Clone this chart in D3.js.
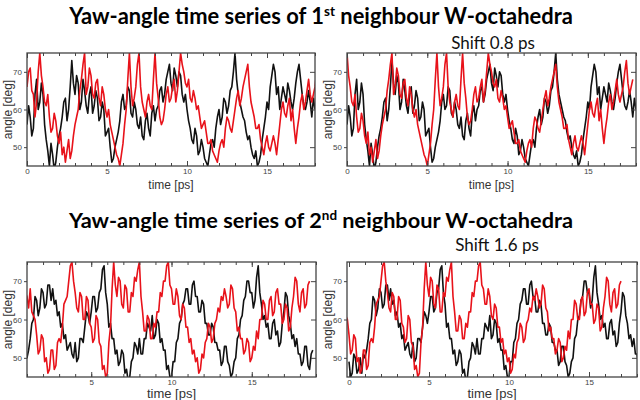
<!DOCTYPE html>
<html>
<head>
<meta charset="utf-8">
<script src="https://cdn.jsdelivr.net/npm/d3@7"></script>
<style>
  body { margin: 0; background: #fff; }
  svg { display: block; }
  .tick text { font-family: "Liberation Sans", Arial, sans-serif; font-size: 8px; fill: #444; }
  .tick line { stroke: #444; }
</style>
</head>
<body>
<div id="chart"></div>
<script>
// sampling step of the series (ps)
var step = 0.1;

// 1st neighbour yaw angles (deg), sampled from t = 0
var blackTop = [56, 61, 58, 53, 55, 64, 68, 60, 62, 67, 64, 56, 52, 49, 45, 51, 48, 44, 46, 50,
  53, 55, 58, 62, 63, 57, 60, 66, 73, 67, 64, 69, 67, 60, 62, 68, 65, 61, 59, 64,
  66, 59, 61, 65, 63, 57, 58, 62, 60, 53, 54, 55, 50, 46, 47, 50, 52, 54, 57, 62,
  64, 60, 61, 66, 65, 59, 58, 62, 60, 56, 55, 58, 53, 52, 57, 59, 55, 53, 59, 61,
  57, 60, 61, 65, 66, 62, 64, 68, 70, 72, 67, 65, 71, 69, 66, 70, 69, 64, 62, 64,
  60, 57, 55, 52, 51, 55, 53, 48, 49, 52, 50, 47, 46, 45, 48, 51, 52, 50, 55, 58,
  60, 56, 58, 63, 62, 59, 61, 65, 66, 70, 75, 68, 64, 62, 60, 58, 57, 54, 52, 53,
  50, 48, 47, 49, 45, 46, 48, 52, 55, 58, 62, 60, 66, 69, 72, 70, 64, 66, 60, 63,
  66, 64, 62, 67, 65, 62, 60, 63, 67, 70, 72, 68, 64, 61, 60, 62, 65, 62, 58, 63,
  60];
var redTop = [66, 70, 71, 65, 64, 58, 62, 70, 75, 69, 66, 62, 61, 64, 58, 54, 55, 59, 57, 53,
  51, 54, 48, 50, 46, 49, 52, 47, 49, 53, 56, 58, 60, 65, 68, 72, 75, 64, 66, 71,
  69, 64, 63, 67, 68, 63, 61, 66, 64, 60, 58, 60, 56, 54, 52, 50, 48, 47, 45, 48,
  51, 56, 60, 68, 75, 66, 61, 63, 66, 72, 75, 66, 62, 60, 58, 62, 64, 61, 60, 68,
  75, 67, 63, 58, 56, 57, 60, 64, 66, 62, 63, 66, 68, 62, 65, 70, 75, 72, 70, 67,
  66, 68, 63, 62, 65, 63, 60, 61, 58, 55, 56, 57, 54, 51, 51, 52, 49, 48, 47, 46,
  49, 51, 52, 50, 55, 58, 57, 55, 54, 57, 60, 63, 65, 61, 63, 66, 68, 70, 72, 66,
  62, 60, 58, 55, 55, 56, 52, 50, 48, 51, 53, 50, 49, 51, 53, 51, 48, 52, 56, 60,
  62, 59, 58, 61, 63, 57, 60, 55, 51, 55, 58, 62, 64, 60, 62, 65, 68, 64, 62, 64,
  66, 70, 73, 67, 64, 66, 68];
var blackTopStart = 0;
var redTopStart = 0;

// 2nd neighbour yaw angles (deg)
var blackBottom = [49, 45, 46, 51, 50, 46, 47, 50, 46, 51, 50, 52, 55, 59, 60, 66, 65, 61, 63, 68,
  67, 63, 64, 69, 69, 65, 68, 64, 65, 61, 62, 58, 59, 55, 56, 52, 53, 54, 51, 50,
  54, 49, 50, 55, 55, 54, 58, 62, 61, 59, 62, 66, 66, 62, 63, 67, 68, 73, 74, 67,
  64, 58, 59, 55, 55, 51, 52, 48, 49, 52, 51, 46, 47, 44, 45, 49, 50, 54, 53, 51,
  55, 51, 51, 55, 55, 59, 58, 57, 61, 55, 56, 60, 59, 54, 55, 52, 52, 47, 48, 45,
  45, 49, 49, 54, 55, 59, 60, 64, 65, 68, 68, 64, 64, 69, 70, 66, 66, 62, 62, 65,
  64, 59, 59, 56, 56, 59, 58, 54, 54, 52, 52, 48, 49, 53, 53, 49, 48, 45, 46, 49,
  50, 55, 56, 60, 61, 65, 66, 70, 70, 67, 67, 63, 65, 71, 74, 67, 64, 60, 61, 58,
  59, 55, 55, 59, 60, 56, 57, 53, 54, 59, 62, 67, 66, 61, 59, 55, 56, 53, 55, 51,
  51, 48, 49, 53, 53, 48, 47, 51, 52];
var redBottom = [62, 67, 66, 63, 68, 62, 61, 60, 56, 51, 52, 56, 55, 49, 50, 46, 47, 52, 52, 47,
  48, 54, 55, 54, 58, 64, 65, 66, 70, 74, 75, 70, 67, 63, 62, 67, 66, 60, 60, 66,
  65, 59, 58, 54, 55, 61, 60, 54, 53, 47, 48, 45, 46, 54, 58, 68, 75, 69, 66, 71,
  70, 64, 63, 69, 68, 62, 62, 67, 66, 71, 70, 73, 75, 66, 62, 57, 57, 61, 60, 55,
  55, 59, 58, 62, 62, 67, 66, 70, 70, 74, 75, 69, 68, 64, 64, 68, 66, 61, 60, 64,
  63, 58, 58, 54, 55, 51, 52, 49, 50, 46, 47, 51, 50, 54, 55, 59, 58, 54, 55, 59,
  60, 63, 62, 66, 65, 68, 66, 63, 64, 69, 68, 63, 62, 57, 58, 55, 55, 51, 52, 55,
  54, 49, 50, 53, 52, 57, 55, 60, 60, 65, 64, 60, 60, 65, 66, 61, 62, 67, 68, 64,
  64, 59, 60, 64, 63, 57, 58, 63, 66, 71, 70, 64, 62, 67, 68, 63, 64, 69, 70];
var blackBottomStart = 0;
var redBottomStart = 0.8;

// time shifts applied to the red series in the right-hand panels (ps)
var shiftTop = 0.8;
var shiftBottom = 1.6;

var yDomain = [45, 75];
var yTickValues = [50, 60, 70];

var svgWidth = 640;
var svgHeight = 400;

var svg = d3.select("#chart")
  .append("svg")
  .attr("width", svgWidth)
  .attr("height", svgHeight);

var panels = [
  { id: "p1", left: 27, right: 315, top: 53, bottom: 166, xDomain: [0, 18], xLabels: [0, 5, 10, 15],
    black: blackTop, blackStart: blackTopStart, red: redTop, redStart: redTopStart, timeY: 189, timeSize: 12 },
  { id: "p2", left: 347, right: 636, top: 53, bottom: 166, xDomain: [0, 18], xLabels: [0, 5, 10, 15],
    black: blackTop, blackStart: blackTopStart, red: redTop, redStart: redTopStart - shiftTop, timeY: 189, timeSize: 12 },
  { id: "p3", left: 27, right: 316, top: 262, bottom: 377, xDomain: [1, 19], xLabels: [5, 10, 15],
    black: blackBottom, blackStart: blackBottomStart, red: redBottom, redStart: redBottomStart, timeY: 398, timeSize: 13 },
  { id: "p4", left: 347, right: 637, top: 262, bottom: 377, xDomain: [-0.125, 18], xLabels: [0, 5, 10, 15],
    black: blackBottom, blackStart: blackBottomStart, red: redBottom, redStart: redBottomStart - shiftBottom, timeY: 398, timeSize: 13 }
];

var defs = svg.append("defs");

panels.forEach(function(p) {
  var x = d3.scaleLinear().domain(p.xDomain).range([p.left, p.right]);
  var y = d3.scaleLinear().domain(yDomain).range([p.bottom, p.top]);
  var h = p.bottom - p.top;
  var minor = d3.range(Math.ceil(p.xDomain[0]), p.xDomain[1] + 0.001, 1);

  defs.append("clipPath").attr("id", "clip-" + p.id)
    .append("rect")
    .attr("x", p.left).attr("y", p.top)
    .attr("width", p.right - p.left).attr("height", h);

  var g = svg.append("g");

  // series
  var lines = g.append("g").attr("clip-path", "url(#clip-" + p.id + ")");
  [[p.black, p.blackStart, "#111"], [p.red, p.redStart, "#e8121a"]].forEach(function(s) {
    var line = d3.line()
      .x(function(d, i) { return x(s[1] + i * step); })
      .y(function(d) { return y(d); });
    lines.append("path")
      .datum(s[0])
      .attr("fill", "none")
      .attr("stroke", s[2])
      .attr("stroke-width", 1.6)
      .attr("stroke-linejoin", "round")
      .attr("d", line);
  });

  // minor x ticks, bottom and top, pointing inward
  g.append("g").attr("transform", "translate(0," + p.bottom + ")")
    .call(d3.axisBottom(x).tickValues(minor).tickSize(-3).tickFormat(""))
    .call(function(a) { a.select(".domain").remove(); });
  g.append("g").attr("transform", "translate(0," + p.top + ")")
    .call(d3.axisTop(x).tickValues(minor).tickSize(-3).tickFormat(""))
    .call(function(a) { a.select(".domain").remove(); });

  // major x ticks with labels
  g.append("g").attr("transform", "translate(0," + p.bottom + ")")
    .call(d3.axisBottom(x).tickValues(p.xLabels).tickSizeInner(-5).tickSizeOuter(0).tickPadding(2).tickFormat(d3.format("d")))
    .call(function(a) { a.select(".domain").remove(); });
  g.append("g").attr("transform", "translate(0," + p.top + ")")
    .call(d3.axisTop(x).tickValues(p.xLabels).tickSize(-5).tickFormat(""))
    .call(function(a) { a.select(".domain").remove(); });

  // y ticks: outward with labels on the left, inward on the right
  g.append("g").attr("transform", "translate(" + p.left + ",0)")
    .call(d3.axisLeft(y).tickValues(yTickValues).tickSize(3).tickPadding(2))
    .call(function(a) { a.select(".domain").remove(); });
  g.append("g").attr("transform", "translate(" + p.right + ",0)")
    .call(d3.axisRight(y).tickValues(yTickValues).tickSize(-5).tickFormat(""))
    .call(function(a) { a.select(".domain").remove(); });

  // frame
  g.append("rect")
    .attr("x", p.left).attr("y", p.top)
    .attr("width", p.right - p.left).attr("height", h)
    .attr("fill", "none")
    .attr("stroke", "#444")
    .attr("stroke-width", 1.3);

  // axis titles
  g.append("text")
    .attr("transform", "translate(" + (p.left - 15) + "," + (p.top + h / 2) + ") rotate(-90)")
    .attr("text-anchor", "middle")
    .style("font-family", "Liberation Sans, Arial, sans-serif")
    .style("font-size", "12px")
    .style("fill", "#333")
    .text("angle [deg]");

  g.append("text")
    .attr("x", (p.left + p.right) / 2)
    .attr("y", p.timeY)
    .attr("text-anchor", "middle")
    .style("font-family", "Liberation Sans, Arial, sans-serif")
    .style("font-size", p.timeSize + "px")
    .style("fill", "#333")
    .text("time [ps]");
});

// headings
function heading(yPos, num, sup) {
  var t = svg.append("text")
    .attr("x", 321)
    .attr("y", yPos)
    .attr("text-anchor", "middle")
    .style("font-family", "Lato, 'Open Sans', sans-serif")
    .style("font-weight", "bold")
    .style("font-size", "21px")
    .style("fill", "#000");
  t.append("tspan").text("Yaw-angle time series of " + num);
  t.append("tspan").attr("dy", -8).style("font-size", "13px").text(sup);
  t.append("tspan").attr("dy", 8).text(" neighbour W-octahedra");
  // fit the heading to the width it has in the picture
  var w = t.node().getComputedTextLength();
  var k = 504 / w;
  t.style("font-size", (21 * k) + "px");
  t.select("tspan:nth-child(2)").style("font-size", (13 * k) + "px");
}
heading(24, "1", "st");
heading(228, "2", "nd");

svg.append("text")
  .attr("x", 493).attr("y", 49)
  .attr("text-anchor", "middle")
  .style("font-family", "Lato, 'Open Sans', sans-serif")
  .style("font-size", "17px")
  .style("fill", "#111")
  .text("Shift 0.8 ps");

svg.append("text")
  .attr("x", 497).attr("y", 251)
  .attr("text-anchor", "middle")
  .style("font-family", "Lato, 'Open Sans', sans-serif")
  .style("font-size", "17px")
  .style("fill", "#111")
  .text("Shift 1.6 ps");
</script>
</body>
</html>
